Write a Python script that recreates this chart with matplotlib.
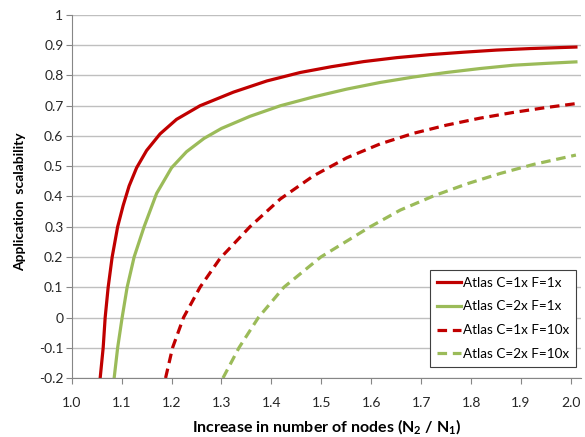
import matplotlib
matplotlib.use("Agg")
import matplotlib.pyplot as plt

# values
x_c1_f1 = [1.057, 1.063, 1.067, 1.073, 1.081, 1.092, 1.103, 1.115, 1.130, 1.150, 1.177,
           1.210, 1.257, 1.324, 1.391, 1.458, 1.520, 1.585, 1.651, 1.718, 1.785, 1.851,
           1.918, 2.010]
y_c1_f1 = [-0.2, -0.1, 0.0, 0.1, 0.2, 0.3, 0.370, 0.435, 0.495, 0.552, 0.607,
           0.655, 0.700, 0.745, 0.782, 0.810, 0.829, 0.846, 0.859, 0.869, 0.877, 0.884,
           0.889, 0.894]

x_c2_f1 = [1.085, 1.092, 1.101, 1.111, 1.125, 1.145, 1.170, 1.200, 1.230, 1.265, 1.300,
           1.357, 1.418, 1.484, 1.551, 1.618, 1.685, 1.751, 1.818, 1.885, 1.950, 2.010]
y_c2_f1 = [-0.2, -0.1, 0.0, 0.1, 0.2, 0.3, 0.410, 0.495, 0.548, 0.592, 0.625,
           0.665, 0.700, 0.729, 0.755, 0.777, 0.795, 0.810, 0.823, 0.834, 0.840, 0.845]

x_c1_f10 = [1.188, 1.202, 1.224, 1.257, 1.297, 1.357, 1.418, 1.484, 1.551, 1.618, 1.685,
            1.751, 1.818, 1.885, 1.950, 2.010]
y_c1_f10 = [-0.2, -0.1, 0.0, 0.1, 0.195, 0.300, 0.392, 0.468, 0.528, 0.574, 0.609,
            0.636, 0.659, 0.678, 0.694, 0.707]

x_c2_f10 = [1.303, 1.335, 1.374, 1.425, 1.499, 1.598, 1.658, 1.725, 1.792, 1.858, 1.925,
            2.010]
y_c2_f10 = [-0.2, -0.1, 0.0, 0.1, 0.2, 0.3, 0.355, 0.402, 0.442, 0.476, 0.506, 0.537]

series_labels = ["Atlas C=1x F=1x", "Atlas C=2x F=1x", "Atlas C=1x F=10x", "Atlas C=2x F=10x"]

x_ticks = [1.0, 1.1, 1.2, 1.3, 1.4, 1.5, 1.6, 1.7, 1.8, 1.9, 2.0]
y_ticks = [-0.2, -0.1, 0.0, 0.1, 0.2, 0.3, 0.4, 0.5, 0.6, 0.7, 0.8, 0.9, 1.0]
y_tick_labels = ["-0.2", "-0.1", "0", "0.1", "0.2", "0.3", "0.4", "0.5", "0.6", "0.7",
                 "0.8", "0.9", "1"]

RED = "#C00000"
GREEN = "#9BBB59"

plt.rcParams["font.family"] = ["Lato", "DejaVu Sans"]
plt.rcParams["mathtext.fontset"] = "custom"
plt.rcParams["mathtext.rm"] = "Lato"
plt.rcParams["mathtext.bf"] = "Lato:bold"

fig = plt.figure(figsize=(5.85, 4.37), dpi=100)
ax = fig.add_axes([0.1226, 0.135, 0.8704, 0.8307])

lw = 2.3
dash = (3.0, 1.8)
ax.plot(x_c1_f1, y_c1_f1, color=RED, lw=lw, label=series_labels[0])
ax.plot(x_c2_f1, y_c2_f1, color=GREEN, lw=lw, label=series_labels[1])
ax.plot(x_c1_f10, y_c1_f10, color=RED, lw=lw, dashes=dash, label=series_labels[2])
ax.plot(x_c2_f10, y_c2_f10, color=GREEN, lw=lw, dashes=dash, label=series_labels[3])

ax.set_xlim(1.0, 2.02)
ax.set_ylim(-0.2, 1.0)
ax.set_xticks(x_ticks)
ax.set_xticklabels([f"{v:.1f}" for v in x_ticks])
ax.set_yticks(y_ticks)
ax.set_yticklabels(y_tick_labels)
ax.grid(axis="y", color="#BFBFBF", lw=1.0)
ax.set_axisbelow(True)

for side in ["top", "right"]:
    ax.spines[side].set_visible(False)
ax.spines["left"].set_color("#868686")
ax.spines["bottom"].set_color("#868686")
ax.tick_params(axis="y", length=4, color="#868686", pad=2, labelsize=10, labelcolor="#262626")
ax.tick_params(axis="x", length=4, color="#868686", pad=10, labelsize=10, labelcolor="#262626")

ax.set_xlabel(r"Increase in number of nodes ($\mathbf{N_2}$ / $\mathbf{N_1}$)",
              fontsize=11.5, fontweight="bold", va="center")
ax.xaxis.set_label_coords(0.5, -0.135)
ax.set_ylabel("Application  scalability", fontsize=10, fontweight="bold")
ax.yaxis.set_label_coords(-0.089, 0.485)

leg = ax.legend(loc="lower right", bbox_to_anchor=(0.990, 0.031), borderaxespad=0,
                fontsize=9.7, handlelength=1.8, handletextpad=0.1, fancybox=False,
                edgecolor="#404040", framealpha=1.0, labelspacing=0.875, borderpad=0.5)
leg.get_frame().set_linewidth(0.8)

fig.savefig("out.png", dpi=100)
